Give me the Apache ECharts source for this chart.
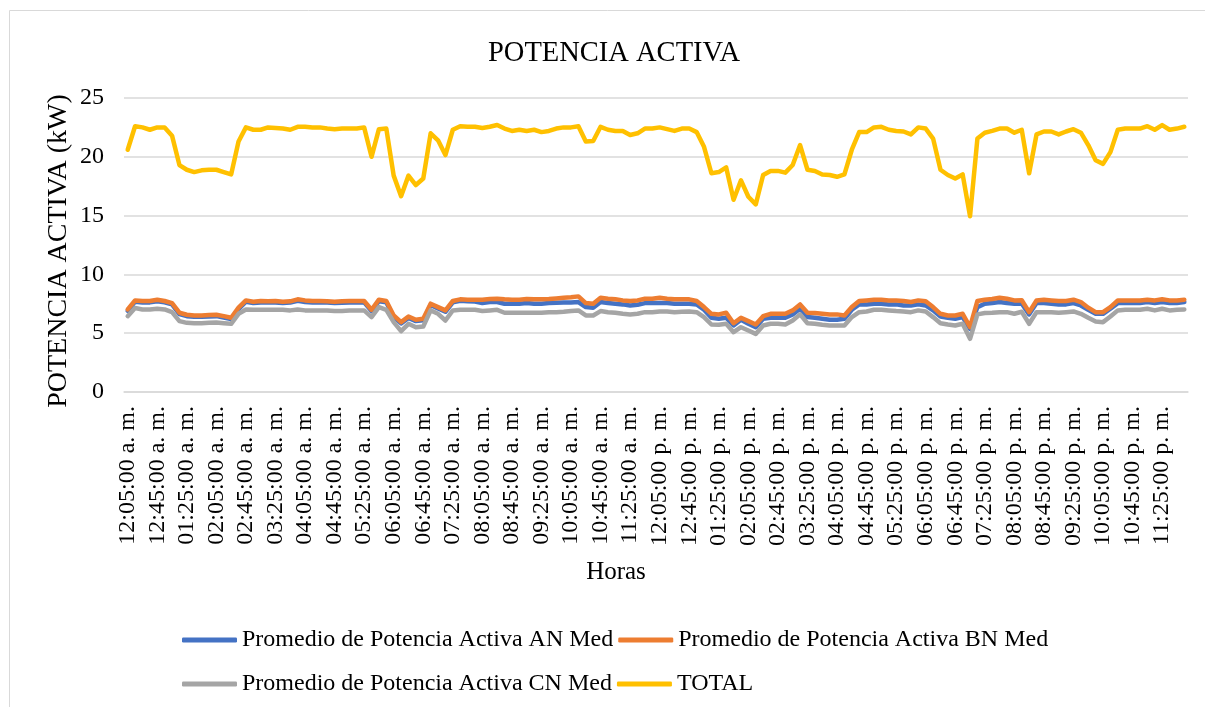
<!DOCTYPE html>
<html>
<head>
<meta charset="utf-8">
<title>POTENCIA ACTIVA</title>
<script src="https://cdn.jsdelivr.net/npm/echarts@6/dist/echarts.min.js"></script>
<style>
    html, body { margin: 0; padding: 0; background: #fff; }
    #main { width: 1205px; height: 707px; }
</style>
</head>
<body>
<div id="main"></div>
<script>
// lecturas cada 10 min, 12:05 a. m. -> 11:55 p. m.
var startMin = 5;
var stepMin = 10;
var nPoints = 144;

var serieAN = [
    6.9, 7.68, 7.62, 7.62, 7.72, 7.62, 7.45, 6.62, 6.45, 6.4, 6.4, 6.42, 6.45, 6.33, 6.2, 7.05,
    7.68, 7.56, 7.62, 7.6, 7.62, 7.56, 7.6, 7.75, 7.66, 7.62, 7.62, 7.6, 7.56, 7.58, 7.62, 7.62,
    7.62, 6.88, 7.72, 7.62, 6.4, 5.83, 6.3, 6.03, 6.1, 7.4, 7.1, 6.82, 7.62, 7.76, 7.72, 7.7,
    7.56, 7.65, 7.65, 7.51, 7.51, 7.51, 7.56, 7.51, 7.51, 7.56, 7.59, 7.62, 7.62, 7.65, 7.22, 7.17,
    7.65, 7.56, 7.51, 7.45, 7.36, 7.42, 7.56, 7.56, 7.56, 7.56, 7.51, 7.51, 7.51, 7.45, 6.99, 6.31,
    6.23, 6.31, 5.66, 6.14, 5.8, 5.51, 6.23, 6.31, 6.31, 6.31, 6.6, 7.08, 6.37, 6.31, 6.23, 6.14,
    6.14, 6.23, 6.99, 7.45, 7.45, 7.51, 7.51, 7.45, 7.45, 7.36, 7.36, 7.45, 7.36, 6.94, 6.42, 6.31,
    6.23, 6.37, 5.37, 7.22, 7.51, 7.56, 7.65, 7.56, 7.51, 7.53, 6.6, 7.56, 7.56, 7.51, 7.45, 7.45,
    7.56, 7.36, 6.99, 6.65, 6.65, 7.08, 7.56, 7.56, 7.56, 7.56, 7.65, 7.56, 7.65, 7.56, 7.56, 7.65
];

var serieBN = [
    7.02, 7.79, 7.74, 7.74, 7.85, 7.74, 7.56, 6.74, 6.57, 6.51, 6.51, 6.54, 6.57, 6.45, 6.31, 7.17,
    7.79, 7.68, 7.74, 7.71, 7.74, 7.68, 7.71, 7.88, 7.79, 7.74, 7.74, 7.71, 7.68, 7.71, 7.74, 7.74,
    7.74, 6.99, 7.85, 7.74, 6.51, 5.94, 6.42, 6.14, 6.23, 7.51, 7.22, 6.94, 7.74, 7.88, 7.85, 7.85,
    7.85, 7.91, 7.93, 7.88, 7.85, 7.85, 7.91, 7.88, 7.88, 7.91, 7.96, 8.02, 8.05, 8.13, 7.56, 7.51,
    8.02, 7.93, 7.88, 7.79, 7.74, 7.79, 7.93, 7.93, 8.02, 7.93, 7.88, 7.88, 7.88, 7.74, 7.22, 6.65,
    6.6, 6.74, 5.85, 6.31, 6.03, 5.74, 6.45, 6.65, 6.65, 6.65, 6.94, 7.45, 6.74, 6.71, 6.65, 6.6,
    6.6, 6.51, 7.22, 7.74, 7.79, 7.85, 7.85, 7.79, 7.79, 7.74, 7.65, 7.79, 7.71, 7.22, 6.65, 6.51,
    6.51, 6.65, 5.51, 7.74, 7.85, 7.91, 8.02, 7.93, 7.79, 7.8, 6.79, 7.79, 7.85, 7.79, 7.74, 7.74,
    7.85, 7.65, 7.17, 6.79, 6.79, 7.22, 7.79, 7.79, 7.79, 7.79, 7.85, 7.79, 7.88, 7.79, 7.79, 7.85
];

var serieCN = [
    6.45, 7.14, 7.02, 7.02, 7.08, 7.02, 6.79, 6.03, 5.88, 5.85, 5.85, 5.88, 5.91, 5.85, 5.8, 6.65,
    7.02, 6.99, 6.99, 6.99, 6.99, 6.99, 6.94, 7.02, 6.94, 6.94, 6.94, 6.94, 6.88, 6.88, 6.94, 6.94,
    6.94, 6.37, 7.22, 6.99, 5.94, 5.17, 5.8, 5.51, 5.57, 6.94, 6.65, 6.08, 6.94, 6.99, 6.99, 6.99,
    6.88, 6.94, 6.99, 6.74, 6.74, 6.74, 6.74, 6.74, 6.74, 6.79, 6.79, 6.82, 6.88, 6.94, 6.51, 6.51,
    6.88, 6.79, 6.74, 6.65, 6.6, 6.65, 6.79, 6.79, 6.85, 6.85, 6.79, 6.82, 6.85, 6.79, 6.37, 5.74,
    5.71, 5.8, 5.09, 5.51, 5.23, 4.94, 5.66, 5.8, 5.8, 5.74, 6.08, 6.6, 5.85, 5.8, 5.71, 5.66,
    5.66, 5.66, 6.37, 6.79, 6.85, 6.99, 6.99, 6.94, 6.88, 6.85, 6.79, 6.94, 6.85, 6.37, 5.85, 5.74,
    5.66, 5.8, 4.52, 6.6, 6.71, 6.74, 6.79, 6.79, 6.65, 6.82, 5.8, 6.79, 6.79, 6.79, 6.74, 6.79,
    6.85, 6.65, 6.31, 6.0, 5.94, 6.42, 6.94, 6.99, 6.99, 6.99, 7.08, 6.94, 7.08, 6.94, 6.99, 7.02
];

var serieTotal = [
    20.6, 22.6, 22.5, 22.3, 22.5, 22.5, 21.8, 19.3, 18.9, 18.7, 18.85, 18.9, 18.9, 18.7, 18.5, 21.3,
    22.5, 22.3, 22.3, 22.5, 22.45, 22.4, 22.3, 22.55, 22.55, 22.5, 22.5, 22.4, 22.35, 22.4, 22.4, 22.4,
    22.5, 20.0, 22.35, 22.4, 18.4, 16.65, 18.4, 17.6, 18.15, 22.0, 21.4, 20.15, 22.3, 22.6, 22.55, 22.55,
    22.45, 22.55, 22.7, 22.4, 22.2, 22.3, 22.2, 22.3, 22.1, 22.2, 22.4, 22.5, 22.5, 22.6, 21.3, 21.35,
    22.55, 22.3, 22.2, 22.2, 21.85, 22.0, 22.4, 22.4, 22.5, 22.35, 22.2, 22.4, 22.4, 22.1, 20.85, 18.6,
    18.7, 19.1, 16.35, 18.0, 16.6, 15.95, 18.45, 18.8, 18.8, 18.65, 19.3, 21.0, 18.9, 18.8, 18.5, 18.45,
    18.3, 18.5, 20.6, 22.1, 22.1, 22.5, 22.55, 22.3, 22.2, 22.15, 21.9, 22.5, 22.4, 21.55, 18.9, 18.45,
    18.15, 18.5, 14.95, 21.55, 22.05, 22.2, 22.4, 22.4, 22.05, 22.3, 18.6, 21.9, 22.15, 22.15, 21.9, 22.15,
    22.35, 22.05, 21.0, 19.7, 19.4, 20.4, 22.3, 22.4, 22.4, 22.4, 22.6, 22.3, 22.7, 22.3, 22.4, 22.55
];

var nombres = [
    'Promedio de Potencia Activa AN Med',
    'Promedio de Potencia Activa BN Med',
    'Promedio de Potencia Activa CN Med',
    'TOTAL'
];
var colores = ['#4472C4', '#ED7D31', '#A5A5A5', '#FFC000'];

function pad(n) {
    return (n < 10 ? '0' : '') + n;
}

// etiquetas de hora "12:05:00 a. m."
var horas = [];
for (var i = 0; i < nPoints; i++) {
    var m = startMin + i * stepMin;
    var h24 = Math.floor(m / 60);
    var h12 = h24 % 12 === 0 ? 12 : h24 % 12;
    var suf = h24 < 12 ? 'a. m.' : 'p. m.';
    horas.push(pad(h12) + ':' + pad(m % 60) + ':00 ' + suf);
}

var fuente = '"Liberation Serif", "Times New Roman", serif';
var valores = [serieAN, serieBN, serieCN, serieTotal];

var series = valores.map(function(d, k) {
    return {
        name: nombres[k],
        type: 'line',
        data: d,
        symbol: 'none',
        smooth: false,
        lineStyle: { width: 4.5, color: colores[k], cap: 'round', join: 'round' },
        itemStyle: { color: colores[k] },
        emphasis: { disabled: true }
    };
});

var legendBase = {
    left: 177,
    orient: 'horizontal',
    icon: 'roundRect',
    itemWidth: 55,
    itemHeight: 5,
    itemGap: 5,
    textStyle: { fontFamily: fuente, fontSize: 24, color: '#000', padding: [0, 0, 0, 0] }
};

var chart = echarts.init(document.getElementById('main'), null, { renderer: 'canvas' });
chart.setOption({
    animation: false,
    color: colores,
    title: {
        text: 'POTENCIA ACTIVA',
        left: 483,
        top: 34,
        textStyle: { fontFamily: fuente, fontSize: 28.5, fontWeight: 'normal', color: '#000' }
    },
    graphic: [{
        type: 'rect',
        shape: { x: 9.5, y: 10.5, width: 1400, height: 900 },
        style: { fill: 'none', stroke: '#D9D9D9', lineWidth: 1 },
        silent: true
    }],
    legend: [
        Object.assign({}, legendBase, { top: 623, data: [nombres[0], nombres[1]] }),
        Object.assign({}, legendBase, { top: 667, data: [nombres[2], nombres[3]] })
    ],
    grid: {
        left: 124,
        right: 17,
        top: 98,
        bottom: 315,
        containLabel: false,
        outerBoundsMode: 'none'
    },
    xAxis: {
        type: 'category',
        data: horas,
        boundaryGap: true,
        name: 'Horas',
        nameLocation: 'middle',
        nameGap: 168,
        nameMoveOverlap: false,
        nameTextStyle: { fontFamily: fuente, fontSize: 25, color: '#000', padding: [0, 80, 0, 0] },
        axisLine: { lineStyle: { color: '#D9D9D9', width: 1.5 } },
        axisTick: { show: false },
        axisLabel: {
            interval: 3,
            rotate: 90,
            margin: 14,
            fontFamily: fuente,
            fontSize: 24,
            color: '#000'
        }
    },
    yAxis: {
        type: 'value',
        min: 0,
        max: 25,
        interval: 5,
        name: 'POTENCIA ACTIVA (kW)',
        nameLocation: 'middle',
        nameGap: 51,
        nameMoveOverlap: false,
        nameTextStyle: { fontFamily: fuente, fontSize: 28, color: '#000', padding: [0, 12, 0, 0] },
        axisLine: { show: false },
        axisTick: { show: false },
        axisLabel: { margin: 20, fontFamily: fuente, fontSize: 24, color: '#000' },
        splitLine: { lineStyle: { color: '#D9D9D9', width: 1.5 } }
    },
    series: series
});
</script>
</body>
</html>
